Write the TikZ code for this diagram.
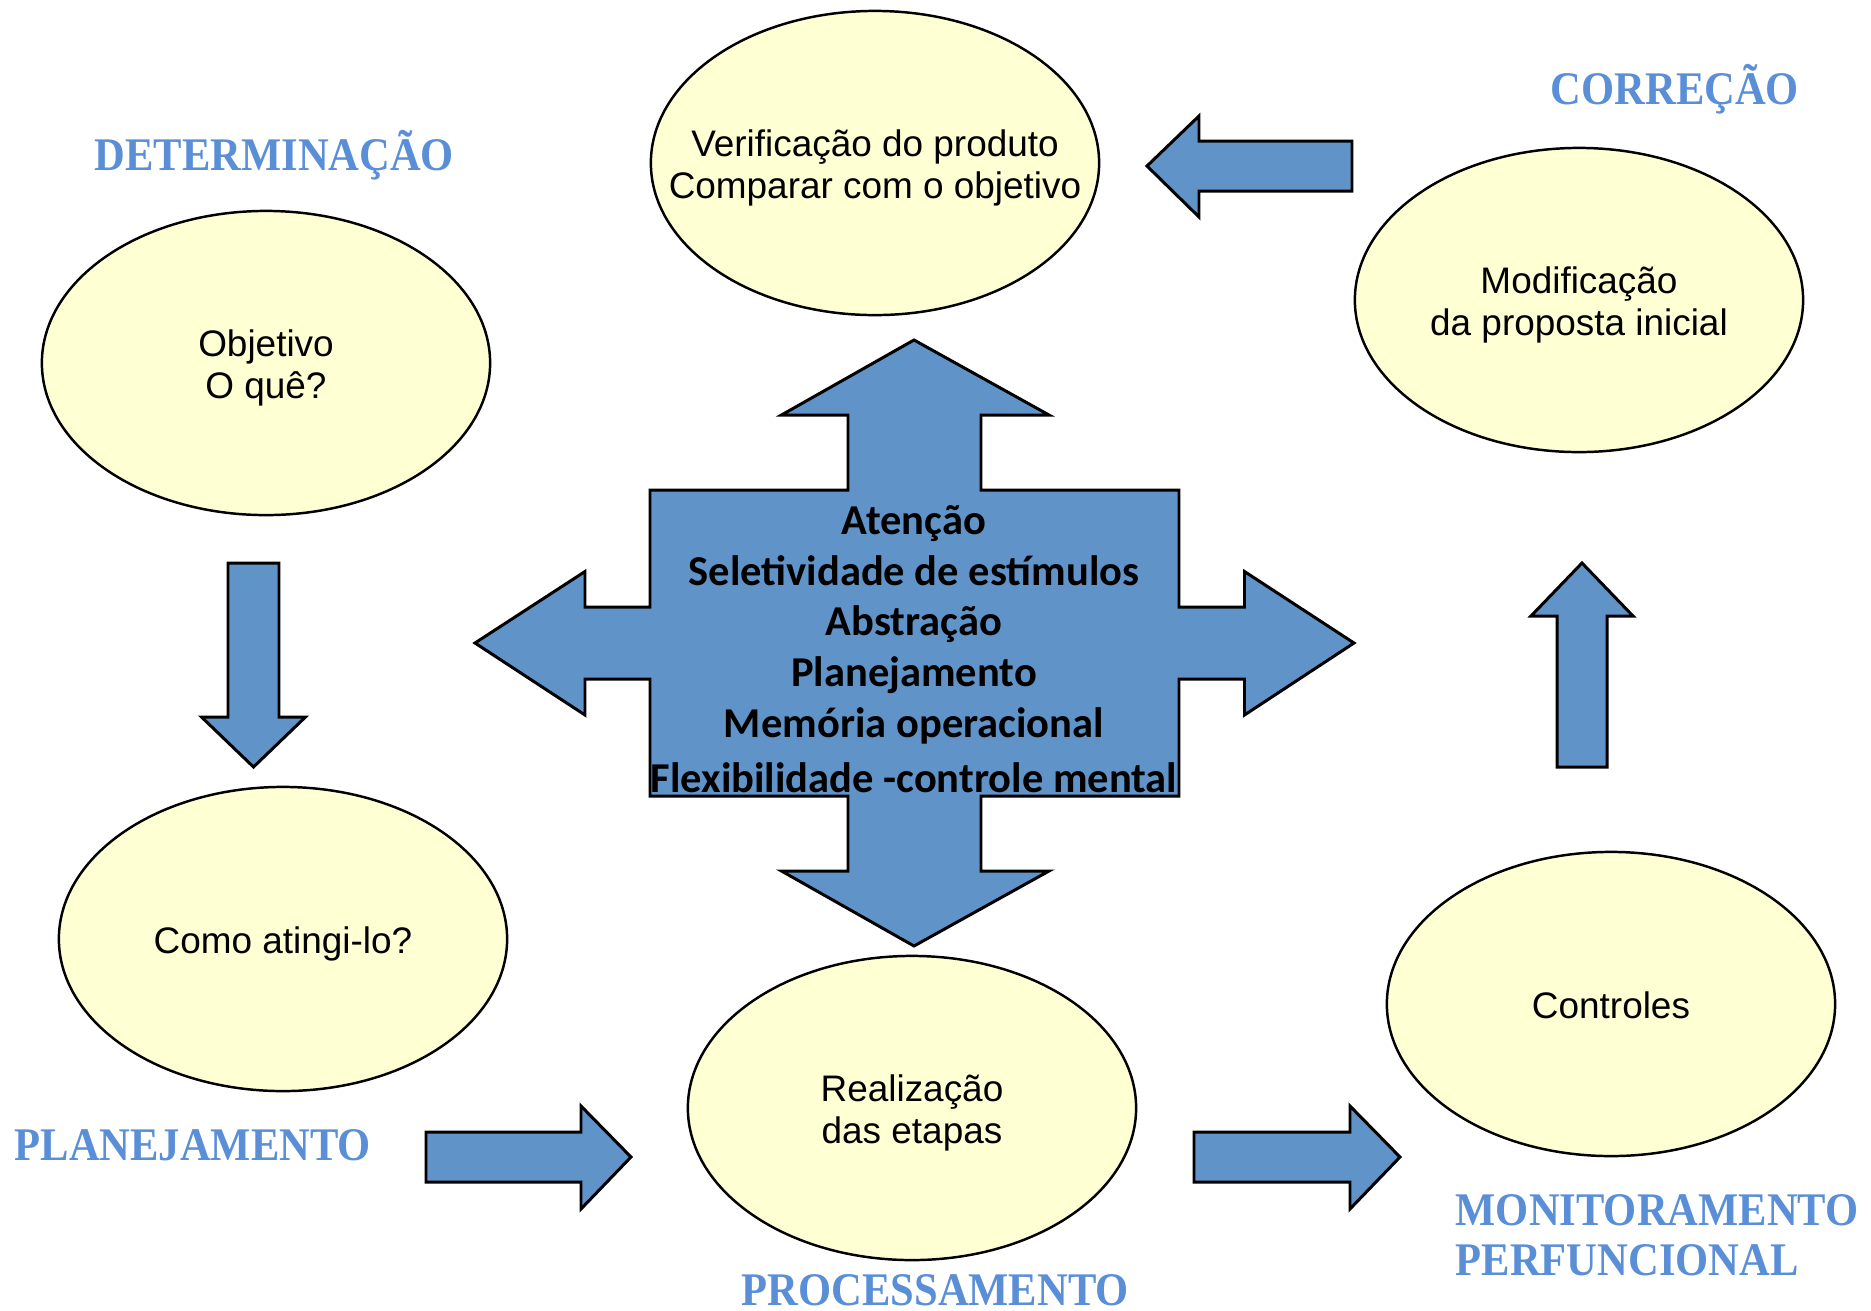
\documentclass[tikz,border=0pt]{standalone}
\usepackage{fontspec}
\setmainfont{Liberation Sans}
\newfontfamily\calibfont{Carlito}
\newfontfamily\timesfont{Liberation Serif}
\usetikzlibrary{shapes.geometric}
\definecolor{blockblue}{RGB}{96,148,200}
\definecolor{ovalfill}{RGB}{255,255,212}
\definecolor{labelblue}{RGB}{90,143,216}
\begin{document}
\begin{tikzpicture}[x=0.01cm,y=-0.01cm,
  oval/.style={ellipse, draw=black, line width=0.7pt, fill=ovalfill,
    minimum width=4.48cm, minimum height=3.04cm, inner sep=0pt},
  ovaltext/.style={align=center, inner sep=0pt, yshift=-0.05cm,
    font=\fontsize{10.5}{12}\selectfont},
  blockarrow/.style={draw=black, line width=0.85pt, fill=blockblue, line join=miter},
  stagelabel/.style={anchor=base west, inner sep=0pt, text=labelblue,
    font=\timesfont\bfseries\fontsize{13.3}{15}\selectfont}]
\useasboundingbox (0,0) rectangle (1871,1311);

% ovals
\node[oval] (verif) at (875,163) {};
\node[ovaltext] (veriftxt) at (verif) {Verificação do produto\\Comparar com o objetivo};
\node[oval] (objet) at (266,363) {};
\node[ovaltext] (objettxt) at (objet) {Objetivo\\O quê?};
\node[oval] (modif) at (1579,300) {};
\node[ovaltext] (modiftxt) at (modif) {Modificação\\da proposta inicial};
\node[oval] (como)  at (283,939) {};
\node[ovaltext] (comotxt) at (como) {Como atingi-lo?};
\node[oval] (real)  at (912,1108) {};
\node[ovaltext] (realtxt) at (real) {Realização\\das etapas};
\node[oval] (contr) at (1611,1004) {};
\node[ovaltext, yshift=0.04cm] (contrtxt) at (contr) {Controles};

% central quad arrow
\draw[blockarrow] (650,490) -- (848,490) -- (848,415) -- (781.5,415) -- (914,340)
  -- (1049,415) -- (981,415) -- (981,490) -- (1179,490) -- (1179,607)
  -- (1244.5,607) -- (1244.5,571.5) -- (1354,643) -- (1244.5,715) -- (1244.5,679)
  -- (1179,679) -- (1179,796) -- (981,796) -- (981,871) -- (1049,871) -- (914,946)
  -- (781.5,871) -- (848,871) -- (848,796) -- (650,796) -- (650,679) -- (585,679)
  -- (585,715) -- (475,643) -- (585,571.5) -- (585,607) -- (650,607) -- cycle;
\node[align=center, inner sep=0pt, font=\calibfont\bfseries\fontsize{12.1}{14.4}\selectfont] (core) at (914,649)
  {Atenção\\Seletividade de estímulos\\Abstração\\Planejamento\\Memória operacional\\[1.3pt]Flexibilidade -controle mental};

% block arrows
\draw[blockarrow] (1352,141) -- (1199,141) -- (1199,116) -- (1147,166) -- (1199,217) -- (1199,191) -- (1352,191) -- cycle;
\draw[blockarrow] (228,563) -- (279,563) -- (279,717) -- (305.5,717) -- (253.5,767) -- (201.5,717) -- (228,717) -- cycle;
\draw[blockarrow] (1557,767) -- (1607,767) -- (1607,616) -- (1633,616) -- (1582,563) -- (1531,616) -- (1557,616) -- cycle;
\draw[blockarrow] (426,1132) -- (581,1132) -- (581,1106) -- (631,1157) -- (581,1209) -- (581,1182) -- (426,1182) -- cycle;
\draw[blockarrow] (1194,1132) -- (1350,1132) -- (1350,1106) -- (1400,1157) -- (1350,1209) -- (1350,1182) -- (1194,1182) -- cycle;

% stage labels
\node[stagelabel] (ldet)  at (94,170)   {\scalebox{0.91}[1]{DETERMINAÇÃO}};
\node[stagelabel] (lcor)  at (1550,104) {\scalebox{0.91}[1]{CORREÇÃO}};
\node[stagelabel] (lplan) at (14,1160)  {\scalebox{0.91}[1]{PLANEJAMENTO}};
\node[stagelabel] (lproc) at (741,1305) {\scalebox{0.91}[1]{PROCESSAMENTO}};
\node[stagelabel] (lmon)  at (1455,1225) {\scalebox{0.91}[1]{MONITORAMENTO}};
\node[stagelabel] (lperf) at (1455,1275) {\scalebox{0.91}[1]{PERFUNCIONAL}};
\end{tikzpicture}
\end{document}
